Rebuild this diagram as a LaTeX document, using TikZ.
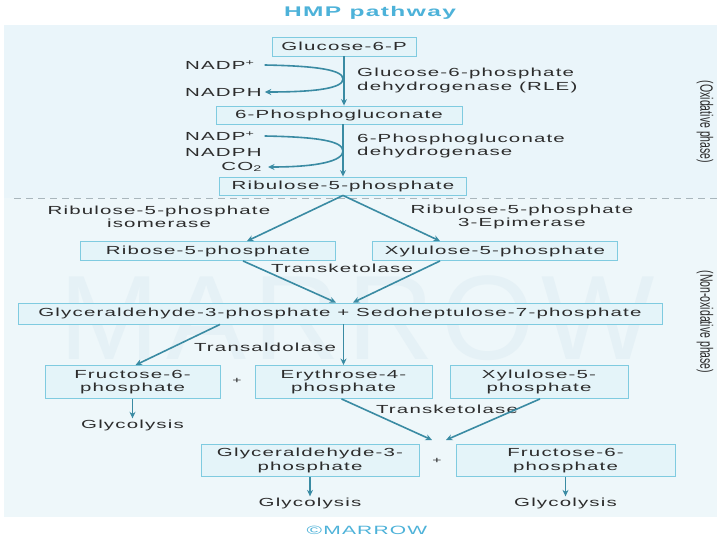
\documentclass[tikz,border=0pt]{standalone}
\usepackage{fontspec}
\setmainfont{Liberation Sans}[FakeStretch=1.75,LetterSpace=10]
\newfontfamily\narrowsans{Liberation Sans}
\usetikzlibrary{arrows.meta,calc}

\definecolor{panelbg}{HTML}{EEF7FA}
\definecolor{panelbgtop}{HTML}{EAF5FA}
\definecolor{boxfill}{HTML}{E4F4F9}
\definecolor{boxline}{HTML}{7FCBE0}
\definecolor{flow}{HTML}{3A8BA3}
\definecolor{ink}{HTML}{2C2C2C}
\definecolor{brand}{HTML}{4DB2D9}
\definecolor{divider}{HTML}{A9B6BC}
\definecolor{wmark}{HTML}{E5F1F6}

\begin{document}
\begin{tikzpicture}[x=1pt,y=-1pt,
  font=\fontsize{11.7}{13.5}\selectfont, text=ink,
  stage/.style={draw=boxline, fill=boxfill, line width=0.9pt, inner sep=0pt, align=center},
  lbl/.style={inner sep=0pt, align=center},
  flowarrow/.style={draw=flow, line width=1.6pt, -{Stealth[length=6.5pt,width=6pt]}},
  phase/.style={inner sep=0pt, text=ink}]

\useasboundingbox (0,0) rectangle (717,540);
\fill[white] (0,0) rectangle (717,540);
\fill[panelbgtop] (4,25) rectangle (717,198);
\fill[panelbg] (4,198) rectangle (717,517);

% faint brand watermark
\node[text=wmark, inner sep=0pt,
  font=\narrowsans\fontsize{120}{120}\selectfont\addfontfeature{LetterSpace=6}] (wm) at (357,318) {MARROW};

% divider between the two phases
\draw[divider, line width=0.9pt, dash pattern=on 7pt off 5pt] (14,198) -- (717,198);

% title and footer
\node[text=brand, inner sep=0pt, font=\bfseries\fontsize{14}{16}\selectfont] (title) at (370,13) {HMP pathway};
\node[text=brand, inner sep=0pt, font=\fontsize{12}{14}\selectfont] (copy) at (367,530) {©MARROW};

% phase labels
\node[phase] (oxlbl) at (705,122) {\scalebox{1.7}[1]{\rotatebox{-90}{\narrowsans\fontsize{10.5}{12}\selectfont (Oxidative phase)}}};
\node[phase] (nonoxlbl) at (705,322) {\scalebox{1.7}[1]{\rotatebox{-90}{\narrowsans\fontsize{10.5}{12}\selectfont (Non-oxidative phase)}}};

% metabolites
\node[stage, minimum width=144, minimum height=19] (g6p) at (344,46.5) {Glucose-6-P};
\node[stage, minimum width=246, minimum height=18] (pg) at (339,115) {6-Phosphogluconate};
\node[stage, minimum width=247, minimum height=18] (ru5p) at (343,186) {Ribulose-5-phosphate};
\node[stage, minimum width=255, minimum height=19] (r5p) at (208,251) {Ribose-5-phosphate};
\node[stage, minimum width=245, minimum height=19] (x5p) at (495,251) {Xylulose-5-phosphate};
\node[stage, minimum width=644, minimum height=21] (gs) at (340,313.5) {Glyceraldehyde-3-phosphate + Sedoheptulose-7-phosphate};
\node[stage, minimum width=175, minimum height=33] (f6p) at (132.5,382) {Fructose-6-\\phosphate};
\node[stage, minimum width=177, minimum height=33] (e4p) at (343.5,382) {Erythrose-4-\\phosphate};
\node[stage, minimum width=178, minimum height=33] (xfp) at (539,382) {Xylulose-5-\\phosphate};
\node[stage, minimum width=218, minimum height=32] (gap) at (310,460.5) {Glyceraldehyde-3-\\phosphate};
\node[stage, minimum width=219, minimum height=32] (ftp) at (565.5,460.5) {Fructose-6-\\phosphate};

% cofactors
\node[lbl, anchor=west] (nadpA) at (185,65) {NADP\textsuperscript{+}};
\node[lbl, anchor=west] (nadphA) at (185,92) {NADPH};
\node[lbl, anchor=west] (nadpB) at (185,136) {NADP\textsuperscript{+}};
\node[lbl, anchor=west] (nadphB) at (185,152) {NADPH};
\node[lbl, anchor=east] (co2) at (262,167) {CO\textsubscript{2}};

% enzymes
\node[lbl, anchor=west, align=left] (gpd) at (357,80.5) {Glucose-6-phosphate\\dehydrogenase (RLE)};
\node[lbl, anchor=west, align=left] (pgd) at (357,146) {6-Phosphogluconate\\dehydrogenase};
\node[lbl] (rpi) at (159,217) {Ribulose-5-phosphate\\isomerase};
\node[lbl] (rpe) at (522,217) {Ribulose-5-phosphate\\3-Epimerase};
\node[lbl] (tkA) at (342,268) {Transketolase};
\node[lbl] (tal) at (265,347) {Transaldolase};
\node[lbl] (tkB) at (447,409) {Transketolase};

% plus signs and end products
\node[lbl, font=\fontsize{9}{10}\selectfont] (plusA) at (237,381) {+};
\node[lbl, font=\fontsize{9}{10}\selectfont] (plusB) at (437,461) {+};
\node[lbl] (glyA) at (132.5,425) {Glycolysis};
\node[lbl] (glyB) at (310,503) {Glycolysis};
\node[lbl] (glyC) at (565.5,503) {Glycolysis};

% oxidative phase
\draw[flowarrow] (g6p.south) -- (g6p.south |- pg.north);
\draw[flowarrow] (ru5p.north |- pg.south) -- (ru5p.north);
\draw[flowarrow] ([xshift=10]nadpA.east) .. controls (318,66) and (343,70) .. (343,79)
                 .. controls (343,88) and (318,92) .. ([xshift=3]nadphA.east);
\draw[flowarrow] ([xshift=10]nadpB.east) .. controls (318,137) and (343,141) .. (343,151)
                 .. controls (343,161) and (318,167) .. ([xshift=6]co2.east);

% non-oxidative phase
\draw[flowarrow] (ru5p.south) -- ([xshift=39]r5p.north);
\draw[flowarrow] (ru5p.south) -- ([xshift=-55]x5p.north);
\draw[flowarrow] ([xshift=35]r5p.south) -- ([xshift=-4]gs.north);
\draw[flowarrow] ([xshift=-55]x5p.south) -- ([xshift=13]gs.north);
\draw[flowarrow] ([xshift=-120]gs.south) -- ([xshift=3]f6p.north);
\draw[flowarrow] (e4p.north |- gs.south) -- (e4p.north);
\draw[flowarrow, shorten >=1pt] (f6p.south) -- (glyA.north);

\coordinate (tkL) at (432,440);
\coordinate (tkR) at (446,440);
\draw[flowarrow] ([xshift=-2]e4p.south) -- (tkL);
\draw[flowarrow] ([xshift=1]xfp.south) -- (tkR);
\draw[flowarrow, shorten >=1pt] (gap.south) -- (glyB.north);
\draw[flowarrow, shorten >=1pt] (ftp.south) -- (glyC.north);
\end{tikzpicture}
\end{document}
